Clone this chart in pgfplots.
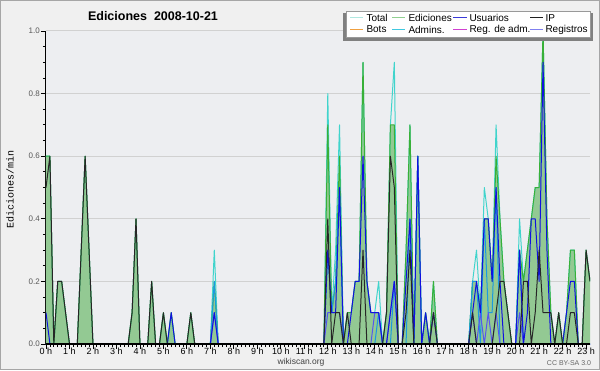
\documentclass[border=0pt]{standalone}
\usepackage{fontspec}
\setmainfont{Liberation Sans}
\setmonofont{Liberation Mono}
\usepackage{pgfplots}
\pgfplotsset{compat=1.18}
\usepackage{pgfplotstable}

\definecolor{bgout}{HTML}{F0F0F0}
\definecolor{bgin}{HTML}{EDEEF1}
\definecolor{tot}{HTML}{40D4CC}
\definecolor{edline}{HTML}{38B038}
\definecolor{edfill}{HTML}{93C993}
\definecolor{adm}{HTML}{1A9AE0}
\definecolor{reg}{HTML}{5555F0}
\definecolor{usr}{HTML}{1010E0}
\definecolor{ipc}{HTML}{262626}
\definecolor{lgtot}{HTML}{B0E8E0}
\definecolor{lged}{HTML}{90D090}
\definecolor{lgusr}{HTML}{3A3AD8}
\definecolor{lgip}{HTML}{202020}
\definecolor{lgbot}{HTML}{F0A040}
\definecolor{lgadm}{HTML}{40C8E0}
\definecolor{lgrda}{HTML}{D040D0}
\definecolor{lgreg}{HTML}{8080F0}

\pgfplotstableread{
i Ed Tot IP Usr Adm Reg
0 0.6 0.6 0.5 0.1 0 0
1 0.6 0.6 0.6 0 0 0
2 0 0 0 0 0 0
3 0.2 0.2 0.2 0 0 0
4 0.2 0.2 0.2 0 0 0
5 0.1 0.1 0.1 0 0 0
6 0 0 0 0 0 0
8 0 0 0 0 0 0
9 0.3 0.3 0.3 0 0 0
10 0.6 0.6 0.6 0 0 0
11 0.3 0.3 0.3 0 0 0
12 0 0 0 0 0 0
21 0 0 0 0 0 0
22 0.1 0.1 0.1 0 0 0
23 0.4 0.4 0.4 0 0 0
24 0 0 0 0 0 0
26 0 0 0 0 0 0
27 0.2 0.2 0.2 0 0 0
28 0 0 0 0 0 0
29 0 0 0 0 0 0
30 0.1 0.1 0.1 0 0 0
31 0 0 0 0 0 0
32 0.1 0.1 0 0.1 0 0
33 0 0 0 0 0 0
36 0 0 0 0 0 0
37 0.1 0.1 0.1 0 0 0
38 0 0 0 0 0 0
42 0 0 0 0 0 0
43 0.2 0.3 0 0.1 0.2 0.1
44 0 0 0 0 0 0
71 0 0 0 0 0 0
72 0.7 0.8 0.4 0.3 0.3 0.1
73 0.1 0.1 0 0.1 0.1 0.1
74 0.2 0.3 0.1 0.1 0.2 0.1
75 0.6 0.7 0.1 0.5 0.5 0.1
76 0 0 0 0 0 0
77 0.1 0.1 0.1 0 0 0
78 0.1 0.1 0 0.1 0 0
79 0.2 0.2 0 0.2 0 0
80 0.2 0.2 0 0.2 0 0
81 0.9 0.9 0.3 0.6 0 0
82 0.2 0.2 0 0.2 0 0
83 0.1 0.1 0 0.1 0 0
84 0.1 0.1 0 0.1 0 0.1
85 0.1 0.2 0 0.1 0.1 0.1
86 0 0 0 0 0 0
87 0.1 0.1 0.1 0 0 0
88 0.7 0.7 0.6 0.1 0 0.1
89 0.7 0.9 0.5 0.2 0.2 0.2
90 0 0 0 0 0 0
91 0 0 0 0 0 0
92 0.3 0.3 0.1 0.2 0 0
93 0.7 0.7 0.3 0.4 0.4 0
94 0 0 0 0 0 0
95 0.6 0.6 0 0.6 0.6 0
96 0 0 0 0 0 0
97 0.1 0.1 0 0.1 0 0
98 0 0 0 0 0 0
99 0.2 0.2 0.1 0.1 0 0
100 0 0 0 0 0 0
108 0 0 0 0 0 0
109 0.2 0.2 0.1 0.1 0.2 0.1
110 0.2 0.3 0 0.2 0.2 0
111 0.1 0.1 0 0.1 0 0.1
112 0.4 0.5 0 0.4 0.4 0
113 0.4 0.4 0 0.4 0.1 0.1
114 0.2 0.2 0 0.2 0.1 0
115 0.6 0.7 0.1 0.5 0.5 0.1
116 0.4 0.4 0.2 0.2 0 0
117 0.2 0.2 0.2 0 0 0
118 0.1 0.1 0.1 0 0 0
119 0 0 0 0 0 0
120 0 0 0 0 0 0
121 0.3 0.4 0 0.3 0.3 0.1
122 0.2 0.2 0.2 0 0 0
123 0.3 0.3 0.2 0.1 0 0
124 0.4 0.4 0 0.4 0 0
125 0.5 0.5 0.1 0.4 0 0
126 0.5 0.5 0.3 0.2 0 0
127 1.0 1.0 0.1 0.9 0 0
128 0.4 0.4 0.1 0.3 0 0
129 0.1 0.1 0.1 0 0 0
130 0 0 0 0 0 0
131 0.1 0.1 0.1 0 0 0
132 0 0 0 0 0 0
133 0.1 0.1 0 0.1 0 0
134 0.3 0.3 0.1 0.2 0 0
135 0.3 0.3 0.1 0.2 0 0
136 0 0 0 0 0 0
137 0 0 0 0 0 0
138 0.3 0.3 0.3 0 0 0
139 0.2 0.2 0.2 0 0 0
}\data

\begin{document}
\begin{tikzpicture}[x=1pt,y=1pt]
\useasboundingbox (0,0) rectangle (600,370);
\fill[bgout] (0,0) rectangle (600,370);
\draw[black!35, line width=1pt] (0.5,0.5) rectangle (599.5,369.5);
\begin{axis}[
  at={(46pt,26pt)}, anchor=south west,
  scale only axis, width=544pt, height=313pt,
  xmin=0, xmax=139, ymin=0, ymax=1,
  axis x line*=bottom, axis y line*=left,
  axis line style={black, line width=1pt, -},
  axis background/.style={fill=bgin},
  tick align=outside,
  major tick length=5pt, minor tick length=3pt,
  every tick/.style={black, line width=0.8pt},
  xtick={0,6,...,138},
  xticklabels={0 h,1 h,2 h,3 h,4 h,5 h,6 h,7 h,8 h,9 h,10 h,11 h,12 h,13 h,14 h,15 h,16 h,17 h,18 h,19 h,20 h,21 h,22 h,23 h},
  minor x tick num=5,
  ytick={0,0.2,0.4,0.6,0.8,1},
  yticklabels={0.0,0.2,0.4,0.6,0.8,1.0},
  minor y tick num=3,
  ymajorgrids,
  major grid style={color=black!18, line width=1pt},
  xticklabel style={font=\fontsize{9}{10}\selectfont, inner sep=1pt, yshift=2.5pt},
  yticklabel style={font=\fontsize{8}{9}\selectfont, text=black!65, inner sep=1pt},
  every axis plot/.append style={mark=none, line width=1pt, line join=round},
]
\addplot[draw=none, fill=edfill] table[x=i,y=Ed]{\data} \closedcycle;
\addplot[tot] table[x=i,y=Tot]{\data};
\addplot[edline] table[x=i,y=Ed]{\data};
\addplot[adm] table[x=i,y=Adm]{\data};
\addplot[reg] table[x=i,y=Reg]{\data};
\addplot[usr] table[x=i,y=Usr]{\data};
\addplot[ipc] table[x=i,y=IP]{\data};
\draw[black, line width=1.2pt] (axis cs:0,0) -- (axis cs:139,0);
\end{axis}
% title and labels
\node[font=\bfseries\fontsize{12.5}{14}\selectfont] at (153,354) {Ediciones\ \ 2008-10-21};
\node[rotate=90, font=\ttfamily\fontsize{10}{12}\selectfont] at (10,181) {Ediciones/min};
\node[font=\fontsize{8.5}{10}\selectfont, text=black!75] at (301,7.5) {wikiscan.org};
\node[font=\fontsize{7}{8}\selectfont, text=black!60] at (569,7) {CC BY-SA 3.0};
% legend
\fill[black!50] (343,329.3) rectangle (593,356.7);
\filldraw[fill=white, draw=black!40, line width=0.6pt] (346,332.7) rectangle (590,358.3);
\begin{scope}[line width=1pt, every node/.style={anchor=west, inner sep=0pt, font=\fontsize{10}{11}\selectfont}]
\draw[lgtot] (350,352) -- (363,352); \node at (366,352) {Total};
\draw[lged] (392,352) -- (405,352); \node at (408,352) {Ediciones};
\draw[lgusr] (453,352) -- (467,352); \node at (469,352) {Usuarios};
\draw[lgip] (530,352) -- (543,352); \node at (545,352) {IP};
\draw[lgbot] (350,340.5) -- (363,340.5); \node at (366,340.5) {Bots};
\draw[lgadm] (392,340.5) -- (405,340.5); \node at (408,340.5) {Admins.};
\draw[lgrda] (453,340.5) -- (467,340.5); \node at (469,340.5) {Reg. de adm.};
\draw[lgreg] (530,340.5) -- (543,340.5); \node at (545,340.5) {Registros};
\end{scope}
\end{tikzpicture}
\end{document}
